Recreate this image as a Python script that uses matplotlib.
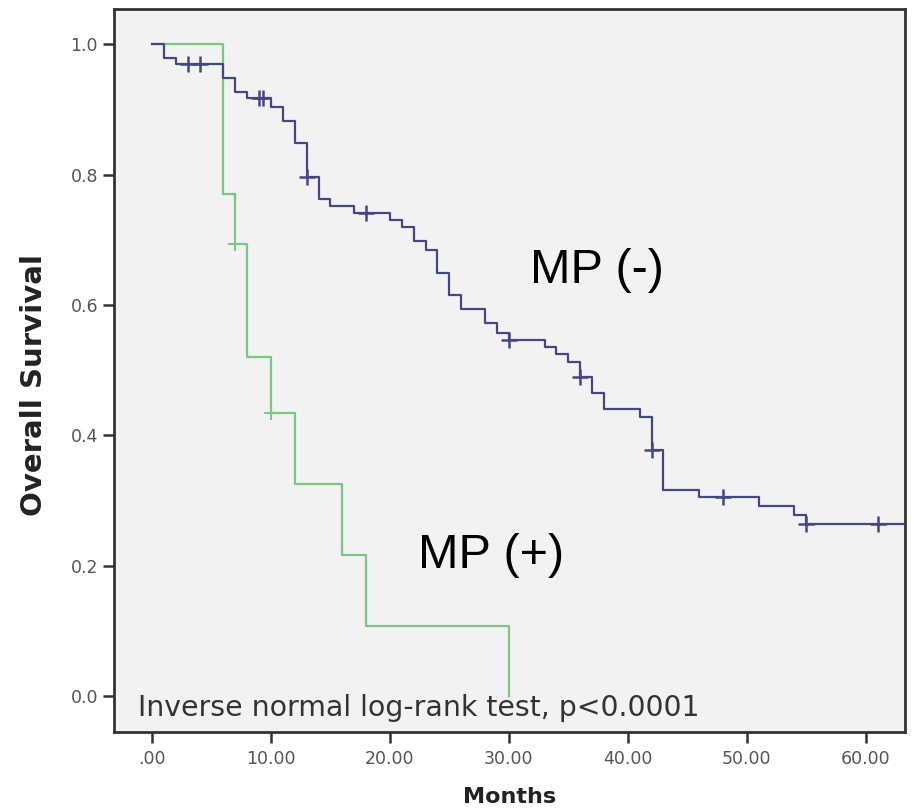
import matplotlib
matplotlib.use("Agg")
import matplotlib.pyplot as plt

# ---- data ----
mp_neg_times = [0, 1, 2, 6, 7, 8, 10, 11, 12, 13, 14, 15, 17, 20, 21, 22, 23, 24, 25, 26,
                28, 29, 30, 33, 34, 35, 36, 37, 38, 41, 42, 43, 46, 51, 54, 55]
mp_neg_surv = [1.0, 0.979, 0.969, 0.948, 0.927, 0.917, 0.904, 0.882, 0.848, 0.796, 0.762,
               0.752, 0.741, 0.730, 0.719, 0.698, 0.684, 0.649, 0.615, 0.594, 0.572, 0.557,
               0.546, 0.535, 0.524, 0.512, 0.489, 0.465, 0.440, 0.428, 0.378, 0.316, 0.305,
               0.291, 0.278, 0.264]
mp_neg_last_followup = 64
mp_neg_cens_t = [3, 4, 9, 9.3, 13, 18, 30, 36, 42, 48, 55, 61]
mp_neg_cens_s = [0.969, 0.969, 0.917, 0.917, 0.796, 0.741, 0.546, 0.489, 0.378, 0.305, 0.264, 0.264]

mp_pos_times = [0, 6, 7, 8, 10, 12, 16, 18, 30]
mp_pos_surv = [1.0, 0.770, 0.693, 0.520, 0.434, 0.325, 0.216, 0.108, 0.0]
mp_pos_cens_t = [7, 10]
mp_pos_cens_s = [0.693, 0.434]

x_ticks = [0, 10, 20, 30, 40, 50, 60]
x_ticklabels = [".00", "10.00", "20.00", "30.00", "40.00", "50.00", "60.00"]
y_ticks = [0.0, 0.2, 0.4, 0.6, 0.8, 1.0]
y_ticklabels = ["0.0", "0.2", "0.4", "0.6", "0.8", "1.0"]

blue = "#45458a"
green = "#78c882"

fig = plt.figure(figsize=(9.14, 8.08), dpi=100)
ax = fig.add_axes([0.1247, 0.0941, 0.990 - 0.1247, 0.9889 - 0.0941])
ax.set_facecolor("#f2f2f2")

# MP (-)
ax.step(mp_neg_times + [mp_neg_last_followup], mp_neg_surv + [mp_neg_surv[-1]],
        where="post", color=blue, lw=1.6, zorder=3)
ax.plot(mp_neg_cens_t, mp_neg_cens_s, ls="none", marker="+", ms=11, mew=1.8,
        color=blue, zorder=4)
# MP (+)
ax.step(mp_pos_times, mp_pos_surv, where="post", color=green, lw=1.6, zorder=2)
ax.plot(mp_pos_cens_t, mp_pos_cens_s, ls="none", marker="+", ms=10, mew=1.4,
        color=green, zorder=2)

ax.set_xlim(-3.2, 63.3)
ax.set_ylim(-0.055, 1.054)

ax.set_xticks(x_ticks)
ax.set_xticklabels(x_ticklabels)
ax.set_yticks(y_ticks)
ax.set_yticklabels(y_ticklabels)
ax.tick_params(axis="both", direction="out", length=8, width=1.8, color="#333333",
               labelcolor="#555555", labelsize=12.5)
ax.tick_params(axis="x", pad=5)

for sp in ax.spines.values():
    sp.set_color("#333333")
    sp.set_linewidth(2.0)

ax.set_xlabel("Months", fontsize=16, fontweight="bold", color="#222222", labelpad=14)
ax.set_ylabel("Overall Survival", fontsize=21, fontweight="bold", color="#222222")
ax.yaxis.set_label_coords(-0.083, 0.48)

ax.text(31.8, 0.653, "MP (-)", fontsize=35, family="Liberation Sans", color="black",
        va="center", ha="left")
ax.text(22.35, 0.216, "MP (+)", fontsize=35, family="Liberation Sans", color="black",
        va="center", ha="left")
ax.text(-1.2, -0.031, "Inverse normal log-rank test, p<0.0001", fontsize=20.4,
        color="#333333", va="baseline", ha="left")

fig.savefig("out.png", dpi=100, facecolor="white")
